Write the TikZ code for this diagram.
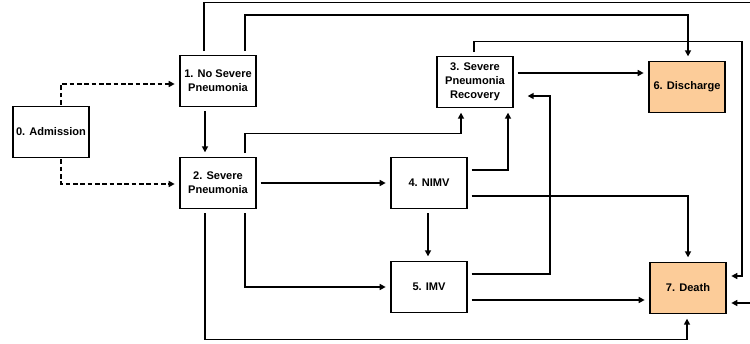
\documentclass[tikz,border=0pt]{standalone}
\usepackage{fontspec}
\setmainfont{Liberation Sans}
\usetikzlibrary{arrows.meta}
\definecolor{peach}{RGB}{252,204,153}
\tikzset{
  state/.style={draw, line width=1pt, minimum width=57pt, minimum height=38pt,
    inner sep=1pt, align=center, font=\fontsize{8.3}{10.5}\selectfont\bfseries},
  absorb/.style={state, fill=peach},
  flow/.style={line width=1.4pt, -{Triangle[length=4.5pt,width=4.5pt]},
    shorten <=3pt, shorten >=3.5pt},
  entry/.style={flow, dash pattern=on 3.5pt off 2pt, shorten <=1pt}
}
\begin{document}
\begin{tikzpicture}[x=0.75pt, y=-0.75pt]
  %tikz  transitions between states
  \clip (0,0) rectangle (750,343);
  \node[state] (adm) at (51,132) {0. Admission};
  \node[state] (nosev) at (218,81) {1. No Severe\\Pneumonia};
  \node[state] (sev) at (218,183) {2. Severe\\Pneumonia};
  \node[state] (rec) at (475,82) {3. Severe\\Pneumonia\\Recovery};
  \node[state] (nimv) at (429,183) {4. NIMV};
  \node[state] (imv) at (429,287) {5. IMV};
  \node[absorb] (dis) at (687,87) {6. Discharge};
  \node[absorb] (death) at (688,288) {7. Death};

  \draw[entry] ([xshift=7.5pt]adm.north) |- ([yshift=-2.25pt]nosev.west);
  \draw[entry] ([xshift=7.5pt]adm.south) |- ([yshift=-0.75pt]sev.west);

  \draw[flow] ([xshift=-9.75pt]nosev.south) -- ([xshift=-9.75pt]sev.north);
  \draw[flow] ([xshift=-10.5pt]nosev.north) -- ++(0,-52.5) -- ++(553,0)
    |- ([yshift=-11.25pt]death.east);
  \draw[flow] ([xshift=20.25pt]nosev.north) -- ++(0,-40) -| ([xshift=0.75pt]dis.north);

  \draw[flow] ([xshift=-0.75pt]rec.north) -- ++(0,-14.5) -- ++(268,0)
    |- ([yshift=9pt]death.east);
  \draw[flow] ([yshift=6.75pt]rec.east) coordinate (r) -- (r -| dis.west);

  \draw[flow] ([xshift=20.25pt]sev.north) -- ++(0,-23.5) -| ([xshift=-10.5pt]rec.south);
  \draw[flow] (sev.east) -- (nimv.west);
  \draw[flow] ([xshift=20.25pt]sev.south) |- (imv.west);
  \draw[flow] ([xshift=-9.75pt]sev.south) -- ++(0,130.5) -| ([xshift=-0.75pt]death.south);

  \draw[flow] ([yshift=9.75pt]nimv.east) -| ([xshift=24.75pt]rec.south);
  \draw[flow] ([yshift=-9.75pt]nimv.east) -| (death.north);
  \draw[flow] ([xshift=-0.75pt]nimv.south) -- ([xshift=-0.75pt]imv.north);

  \draw[flow] ([yshift=9.75pt]imv.east) -- ++(82,0) |- ([xshift=7pt,yshift=-10.5pt]rec.east);
  \draw[flow] ([yshift=-9.75pt]imv.east) coordinate (m) -- (m -| death.west);
\end{tikzpicture}
\end{document}
